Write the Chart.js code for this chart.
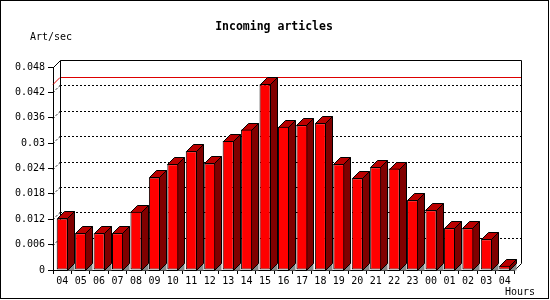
<!DOCTYPE html>
<html>
<head>
<meta charset="utf-8">
<script src="https://cdn.jsdelivr.net/npm/chart.js@4"></script>
<style>
  html, body { margin: 0; padding: 0; background: #fff; }
</style>
</head>
<body>
<canvas id="chart" width="550" height="300"></canvas>
<script>
// data
const hours = ["04", "05", "06", "07", "08", "09", "10", "11", "12", "13", "14", "15", "16",
  "17", "18", "19", "20", "21", "22", "23", "00", "01", "02", "03", "04"];
const artPerSec = [0.0122, 0.0087, 0.0087, 0.0087, 0.0138, 0.0219, 0.0250, 0.0281, 0.0252,
  0.0305, 0.0332, 0.0439, 0.0339, 0.0342, 0.0347, 0.0250, 0.0217, 0.0243, 0.0240, 0.0165,
  0.0141, 0.0099, 0.0099, 0.0073, 0.0010];
const yTicks = [0, 0.006, 0.012, 0.018, 0.024, 0.03, 0.036, 0.042, 0.048];
const chartTitle = "Incoming articles";
const yTitle = "Art/sec";
const xTitle = "Hours";

const DEPTH = 7;
const MONO = '"DejaVu Sans Mono", "Liberation Mono", monospace';

// back plane, dotted grid, max line
const backPlane = {
  id: "backPlane",
  beforeDatasetsDraw(chart) {
    const ctx = chart.ctx;
    const area = chart.chartArea;
    const y = chart.scales.y;
    const L = area.left, R = area.right, B = area.bottom, T = area.top;
    ctx.save();
    ctx.lineWidth = 1;

    // dotted grid on the back wall + little diagonal links
    ctx.strokeStyle = "#000";
    ctx.setLineDash([2, 2]);
    yTicks.forEach(v => {
      if (v === 0 || v === yTicks[yTicks.length - 1]) return;
      const py = Math.round(y.getPixelForValue(v)) + 0.5;
      ctx.beginPath();
      ctx.moveTo(L + DEPTH, py - DEPTH);
      ctx.lineTo(R + DEPTH, py - DEPTH);
      ctx.moveTo(L, py);
      ctx.lineTo(L + DEPTH, py - DEPTH);
      ctx.stroke();
    });
    ctx.setLineDash([]);

    // red line at the peak
    const maxVal = Math.max(...artPerSec);
    const my = Math.round(y.getPixelForValue(maxVal)) + 0.5;
    ctx.strokeStyle = "#dd0000";
    ctx.beginPath();
    ctx.moveTo(L, my);
    ctx.lineTo(L + DEPTH, my - DEPTH);
    ctx.lineTo(R + DEPTH, my - DEPTH);
    ctx.stroke();

    // back wall outline
    const l = Math.round(L) + 0.5, r = Math.round(R) + 0.5;
    const t = Math.round(T) + 0.5, b = Math.round(B) + 0.5;
    ctx.strokeStyle = "#000";
    ctx.beginPath();
    ctx.moveTo(l, t);
    ctx.lineTo(l + DEPTH, t - DEPTH);
    ctx.lineTo(r + DEPTH, t - DEPTH);
    ctx.lineTo(r + DEPTH, b - DEPTH);
    ctx.lineTo(r, b);
    ctx.moveTo(l + DEPTH, t - DEPTH);
    ctx.lineTo(l + DEPTH, b - DEPTH);
    ctx.stroke();

    // top and side faces of the bars
    const meta = chart.getDatasetMeta(0);
    meta.data.forEach(bar => {
      const p = bar.getProps(["x", "y", "base", "width"], true);
      const x1 = Math.round(p.x - p.width / 2) + 0.5;
      const x2 = Math.round(p.x + p.width / 2) - 0.5;
      const yt = Math.round(p.y) + 0.5;
      const yb = Math.round(p.base) + 0.5;

      ctx.fillStyle = "#888888";
      ctx.beginPath();
      ctx.moveTo(x2, yb);
      ctx.lineTo(x2 + DEPTH, yb - DEPTH);
      ctx.lineTo(x2 + DEPTH, yb);
      ctx.closePath();
      ctx.fill();

      ctx.fillStyle = "#bb0000";
      ctx.beginPath();
      ctx.moveTo(x1, yt);
      ctx.lineTo(x1 + DEPTH, yt - DEPTH);
      ctx.lineTo(x2 + DEPTH, yt - DEPTH);
      ctx.lineTo(x2, yt);
      ctx.closePath();
      ctx.fill();
      ctx.stroke();

      ctx.fillStyle = "#800000";
      ctx.beginPath();
      ctx.moveTo(x2, yt);
      ctx.lineTo(x2 + DEPTH, yt - DEPTH);
      ctx.lineTo(x2 + DEPTH, yb - DEPTH);
      ctx.lineTo(x2, yb);
      ctx.closePath();
      ctx.fill();
      ctx.stroke();
    });
    ctx.restore();
  }
};

// frame and texts
const labels = {
  id: "labels",
  afterDraw(chart) {
    const ctx = chart.ctx;
    ctx.save();
    ctx.strokeStyle = "#000";
    ctx.lineWidth = 1;
    ctx.strokeRect(0.5, 0.5, 548, 298);
    ctx.fillStyle = "#000";
    ctx.textBaseline = "middle";
    ctx.textAlign = "center";
    ctx.font = "bold 11.5px " + MONO;
    ctx.fillText(chartTitle, 274, 27);
    ctx.textAlign = "left";
    ctx.font = "10px " + MONO;
    ctx.fillText(yTitle, 30, 37);
    ctx.fillText(xTitle, 505, 292);
    ctx.restore();
  }
};

const ctx = document.getElementById("chart").getContext("2d");
const myChart = new Chart(ctx, {
  type: "bar",
  data: {
    labels: hours,
    datasets: [
      {
        data: artPerSec,
        backgroundColor: "#ff0000",
        borderColor: "#000",
        borderWidth: 1,
        borderSkipped: false,
        categoryPercentage: 1,
        barPercentage: 0.6,
      },
    ],
  },
  options: {
    responsive: false,
    animation: false,
    devicePixelRatio: 1,
    layout: { padding: { top: 67, right: 36, bottom: 0, left: 0 } },
    plugins: {
      legend: { display: false },
      title: { display: false },
      tooltip: { enabled: false },
    },
    scales: {
      x: {
        offset: true,
        grid: { offset: true, drawOnChartArea: false, tickLength: 4, color: "#000" },
        border: { display: true, color: "#000" },
        ticks: {
          color: "#000",
          font: { family: MONO, size: 10 },
          padding: 1,
          maxRotation: 0,
          autoSkip: false,
        },
        afterFit(scale) { scale.height = 30; },
      },
      y: {
        min: 0,
        max: 0.048,
        grid: { drawOnChartArea: false, tickLength: 5, color: "#000" },
        border: { display: true, color: "#000" },
        afterBuildTicks(scale) { scale.ticks = yTicks.map(v => ({ value: v })); },
        ticks: {
          color: "#000",
          font: { family: MONO, size: 10 },
          padding: 3,
          callback: v => String(parseFloat(v.toFixed(3))),
        },
        afterFit(scale) { scale.width = 53; },
      },
    },
  },
  plugins: [backPlane, labels],
});
</script>
</body>
</html>
